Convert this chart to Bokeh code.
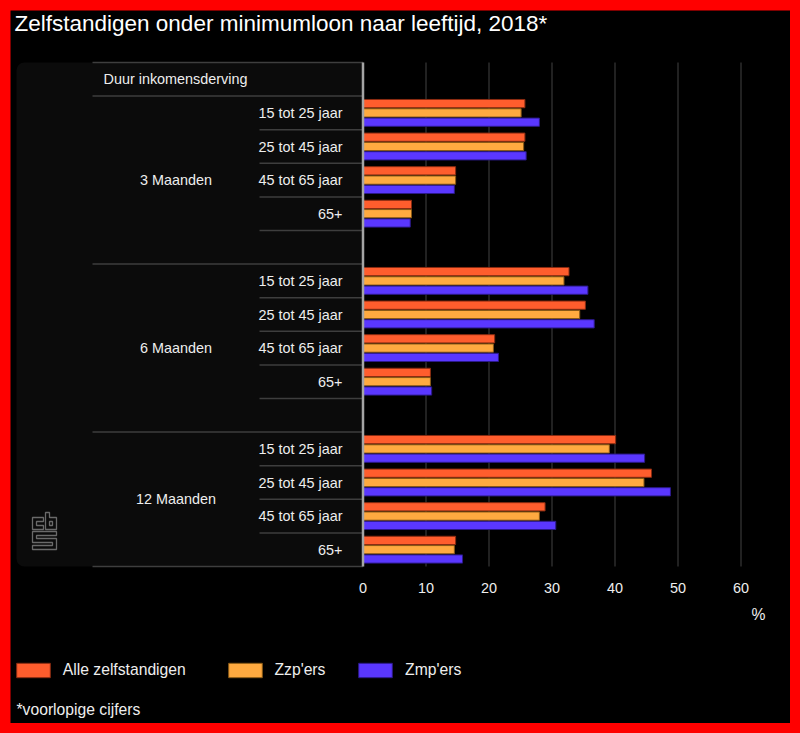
from bokeh.plotting import figure
from bokeh.models import Range1d, Label, Legend, LegendItem, ColumnDataSource
from bokeh.embed import file_html
from bokeh.resources import INLINE
from bokeh.core.properties import value

# ---------------- data ----------------
title_text = "Zelfstandigen onder minimumloon naar leeftijd, 2018*"
header_text = "Duur inkomensderving"
durations = ["3 Maanden", "6 Maanden", "12 Maanden"]
ages = ["15 tot 25 jaar", "25 tot 45 jaar", "45 tot 65 jaar", "65+"]
series_names = ["Alle zelfstandigen", "Zzp'ers", "Zmp'ers"]
alle = [25.7, 25.7, 14.7, 7.7, 32.7, 35.3, 20.9, 10.7, 40.1, 45.8, 28.9, 14.7]
zzp = [25.1, 25.5, 14.7, 7.7, 31.9, 34.4, 20.7, 10.7, 39.1, 44.6, 28.0, 14.5]
zmp = [28.0, 25.9, 14.5, 7.5, 35.7, 36.7, 21.5, 10.9, 44.7, 48.8, 30.6, 15.8]
x_ticks = [0, 10, 20, 30, 40, 50, 60]
unit_label = "%"
footnote = "*voorlopige cijfers"

# ---------------- style / layout ----------------
FONT = "Liberation Sans"
colors = ["#ff5d2d", "#ffaa40", "#5a37ff"]
edge_colors = ["#8a2c12", "#8a5a16", "#2c1a8a"]
TEXT = "#eeeeee"
SEP = "#3e3e3e"
LBL = "14.4px"

W, H = 780, 713                 # figure size (placed at 10,10 on a red page)
FT, FB = 52, 556                # top / bottom of the bar area in figure px
PX_PER_UNIT = 6.3
ZERO_PX = 352.5                 # figure px of value 0

# slot layout: header + groups (blank spacer between groups)
group_start = []
slot = 1
for gi, d in enumerate(durations):
    group_start.append(slot)
    slot += len(ages) + (1 if gi < len(durations) - 1 else 0)
n_slots = slot
SLOT_PX = (FB - FT) / n_slots


def fx(px):
    return (px - ZERO_PX) / PX_PER_UNIT


def fy(py):
    return (py - FT) / SLOT_PX


p = figure(width=W, height=H, output_backend="svg", toolbar_location=None,
           x_range=Range1d(fx(0), fx(W)), y_range=Range1d(fy(H), fy(0)),
           x_axis_location=None, y_axis_location=None,
           min_border_left=0, min_border_right=0, min_border_top=0, min_border_bottom=0,
           background_fill_color="#000000", border_fill_color="#000000",
           outline_line_color=None)
p.margin = 10
p.xgrid.grid_line_color = None
p.ygrid.grid_line_color = None

# left panel background
p.quad(left=[fx(6)], right=[0], top=[0], bottom=[n_slots], fill_color="#0b0b0b",
       line_color=None, border_radius=(8, 0, 0, 8))

# vertical grid lines at the ticks
p.segment(x0=x_ticks, x1=x_ticks, y0=[0] * len(x_ticks), y1=[n_slots] * len(x_ticks),
          line_color="#2c2c2c", line_width=1.5)

# tick labels
p.text(x=x_ticks, y=[fy(577)] * len(x_ticks), text=[str(t) for t in x_ticks],
       text_font=value(FONT), text_font_size=LBL, text_color=TEXT,
       text_align="center", text_baseline="middle")

# separator lines
x_full = fx(82)
x_sub = fx(249)
sx0, sx1, sy = [], [], []
for yy in [0, 1]:
    sx0.append(x_full); sx1.append(0); sy.append(yy)
for gi in range(len(durations)):
    gs = group_start[gi]
    ge = group_start[gi + 1] if gi + 1 < len(durations) else n_slots
    for k in range(gs + 1, ge):
        sx0.append(x_sub); sx1.append(0); sy.append(k)
    sx0.append(x_full); sx1.append(0); sy.append(ge)
p.segment(x0=sx0, x1=sx1, y0=sy, y1=sy, line_color=SEP, line_width=1.5)

# header and category labels
p.text(x=[fx(93)], y=[0.5], text=[header_text], text_font=value(FONT),
       text_font_size=LBL, text_color=TEXT, text_align="left", text_baseline="middle")
gx, gy, gt = [], [], []
ax, ay, at = [], [], []
bar_y = []
for gi, d in enumerate(durations):
    gs = group_start[gi]
    ge = group_start[gi + 1] if gi + 1 < len(durations) else n_slots
    gx.append(fx(165.5)); gy.append((gs + ge) / 2); gt.append(d)
    for ai, a in enumerate(ages):
        ax.append(fx(332)); ay.append(gs + ai + 0.5); at.append(a)
        bar_y.append(gs + ai + 0.5)
p.text(x=gx, y=gy, text=gt, text_font=value(FONT), text_font_size=LBL,
       text_color=TEXT, text_align="center", text_baseline="middle")
p.text(x=ax, y=ay, text=at, text_font=value(FONT), text_font_size=LBL,
       text_color=TEXT, text_align="right", text_baseline="middle")

# bars
offsets = [-0.277, 0.0, 0.277]
renderers = []
for si, vals in enumerate([alle, zzp, zmp]):
    src = ColumnDataSource(dict(y=[b + offsets[si] for b in bar_y], v=vals))
    r = p.hbar(y="y", left=0, right="v", height=0.245, source=src,
               fill_color=colors[si], line_color=edge_colors[si], line_width=1)
    renderers.append(r)

# value axis line
p.segment(x0=[0], x1=[0], y0=[0], y1=[n_slots], line_color="#a4a4a4", line_width=2.5)

# cbs logo (outline)
LX, LY = 22, 502
shapes = [
    [(0, 5), (11, 5), (11, 9), (4, 9), (4, 13), (11, 13), (11, 17), (0, 17)],
    [(13, 0), (17, 0), (17, 5), (24, 5), (24, 17), (13, 17)],
    [(17, 9), (20, 9), (20, 13), (17, 13)],
    [(0, 19), (24, 19), (24, 23), (4, 23), (4, 26), (24, 26), (24, 37), (0, 37),
     (0, 33), (20, 33), (20, 30), (0, 30)],
]
p.patches(xs=[[fx(LX + a) for a, b in s] for s in shapes],
          ys=[[fy(LY + b) for a, b in s] for s in shapes],
          fill_color=None, line_color="#6a6a6a", line_width=1.3)

# title, unit, footnote (screen units from the bottom-left of the canvas)
p.add_layout(Label(x=4, y=H - 13, x_units="screen", y_units="screen", text=title_text,
                   text_font=FONT, text_font_size="22.5px", text_color="#ffffff",
                   text_baseline="middle", text_align="left"))
p.add_layout(Label(x=748, y=H - 604, x_units="screen", y_units="screen", text=unit_label,
                   text_font=FONT, text_font_size="15.7px", text_color=TEXT,
                   text_baseline="middle", text_align="center"))
p.add_layout(Label(x=6, y=H - 699, x_units="screen", y_units="screen", text=footnote,
                   text_font=FONT, text_font_size="15.7px", text_color=TEXT,
                   text_baseline="middle", text_align="left"))

# legends (bar legend glyphs are inset by 10% on each side)
legend_x = [1.8, 213.5, 344.1]
for si, name in enumerate(series_names):
    leg = Legend(items=[LegendItem(label=name, renderers=[renderers[si]])],
                 location=(legend_x[si], 44), orientation="horizontal",
                 padding=0, margin=0, border_line_color=None, background_fill_alpha=0,
                 glyph_width=42, glyph_height=18, label_height=18, label_standoff=9,
                 label_text_font=FONT, label_text_font_size="15.7px",
                 label_text_color=TEXT)
    p.add_layout(leg)

TEMPLATE = """
{% block preamble %}<style>html, body { margin: 0; padding: 0; background: #ff0000; }</style>{% endblock %}
"""

open("out.html", "w").write(file_html(p, INLINE, template=TEMPLATE))
